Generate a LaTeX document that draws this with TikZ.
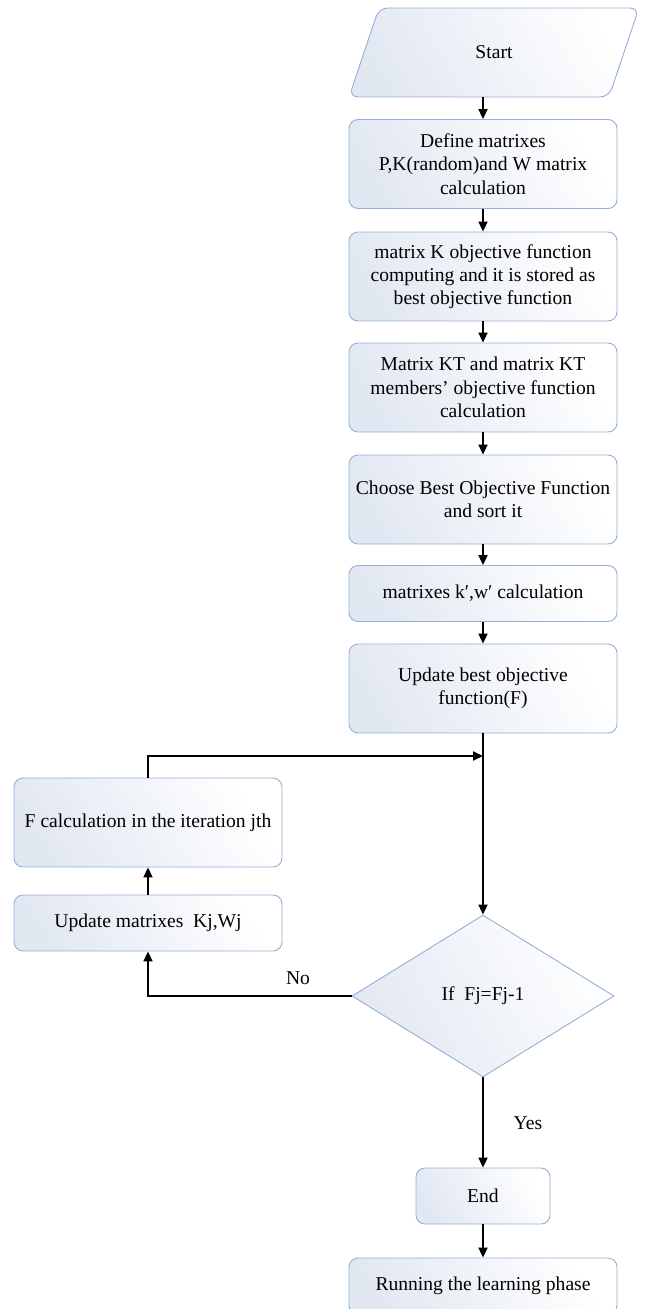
\documentclass[tikz,border=0pt]{standalone}
\usepackage{fontspec}
\setmainfont{Liberation Serif}
\usetikzlibrary{arrows.meta,shapes.geometric}
\definecolor{bord}{HTML}{93B0D6}
\definecolor{fillc}{HTML}{E2E8F2}
\tikzset{
  procbox/.style={rectangle, rounded corners=9pt, draw=bord, line width=0.9pt,
    left color=fillc, right color=white, shading angle=120,
    minimum width=268pt, inner sep=2pt, align=center,
    font=\fontsize{19.6}{23.3}\selectfont},
  arr/.style={draw=black, line width=2pt, -{Triangle[length=10pt,width=9pt]}},
  lbl/.style={font=\fontsize{19.6}{23.3}\selectfont}
}
\begin{document}
\begin{tikzpicture}[x=1pt,y=-1pt]
\useasboundingbox (0,0) rectangle (645,1309);
% Start parallelogram
\node[trapezium, trapezium left angle=74, trapezium right angle=106,
  trapezium stretches=true, minimum width=291pt, minimum height=89pt,
  draw=bord, line width=0.9pt, rounded corners=9pt,
  left color=fillc, right color=white, shading angle=120,
  font=\fontsize{19.6}{23.3}\selectfont] (start) at (494,52.5) {Start};
\node[procbox, minimum height=89pt] (b1) at (483,164) {Define matrixes\\P,K(random)and W matrix\\calculation};
\node[procbox, minimum height=89pt] (b2) at (483,276.5) {matrix K objective function\\computing and it is stored as\\best objective function};
\node[procbox, minimum height=89pt] (b3) at (483,387.5) {Matrix KT and matrix KT\\members’ objective function\\calculation};
\node[procbox, minimum height=89pt] (b4) at (483,499.5) {Choose Best Objective Function\\and sort it};
\node[procbox, minimum height=56pt] (b5) at (483,593.5) {matrixes k′,w′ calculation};
\node[procbox, minimum height=89pt] (b6) at (483,688.5) {Update best objective\\function(F)};
\node[procbox, minimum height=89pt] (fc) at (148,822.5) {F calculation in the iteration jth};
\node[procbox, minimum height=56pt] (up) at (148,923) {Update matrixes\ \ Kj,Wj};
\node[diamond, draw=bord, line width=0.9pt, left color=fillc, right color=white,
  shading angle=120, minimum width=262pt, minimum height=162pt, inner sep=0pt,
  aspect=1.6, font=\fontsize{19.6}{23.3}\selectfont] (dec) at (483,996) {If\ \ Fj=Fj-1};
\node[procbox, minimum width=134pt, minimum height=56pt] (end) at (483,1196) {End};
\node[procbox, minimum height=56pt] (run) at (483,1286) {Running the learning phase};
\coordinate (join) at (483,756);
% connectors
\draw[arr] (start.south -| b1.north) -- (b1.north);
\draw[arr] (b1.south) -- (b2.north);
\draw[arr] (b2.south) -- (b3.north);
\draw[arr] (b3.south) -- (b4.north);
\draw[arr] (b4.south) -- (b5.north);
\draw[arr] (b5.south) -- (b6.north);
\draw[arr] (b6.south) -- (dec.north);
\draw[arr] (fc.north) |- (join);
\draw[arr] (up.north) -- (fc.south);
\draw[arr] (dec.west) -| (up.south);
\draw[arr] (dec.south) -- (end.north);
\draw[arr] (end.south) -- (run.north);
\node[lbl] (no) at (298,978) {No};
\node[lbl] (yes) at (528,1123) {Yes};
\end{tikzpicture}
\end{document}
